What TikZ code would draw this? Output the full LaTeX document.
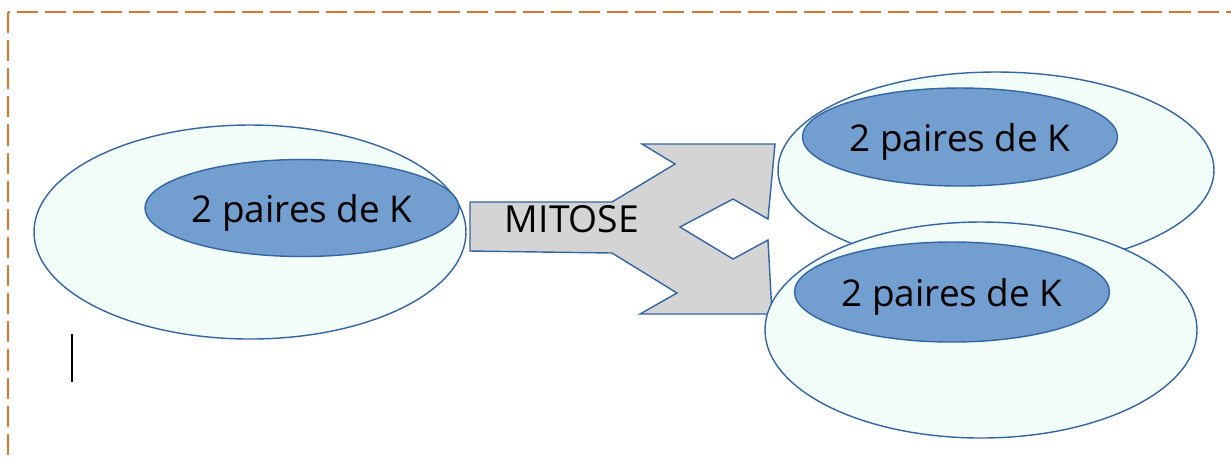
\documentclass[tikz,border=0pt]{standalone}
\usepackage{fontspec}
\setmainfont{Open Sans}
\usetikzlibrary{shapes.geometric}

\definecolor{cellfill}{HTML}{F2FDFA}
\definecolor{kfill}{HTML}{729FCF}
\definecolor{edgeblue}{HTML}{3465A4}
\definecolor{arrowgray}{HTML}{D4D4D4}
\definecolor{frameorange}{HTML}{D9752C}

\tikzset{
  cell/.style={draw=edgeblue, fill=cellfill, line width=0.4pt},
  pair/.style={ellipse, draw=edgeblue, fill=kfill, line width=0.4pt,
    inner sep=0pt, text height=11pt, text depth=2.5pt,
    font=\fontsize{10.5}{12}\selectfont},
  label/.style={font=\fontsize{10.6}{12}\selectfont}
}

\begin{document}
\begin{tikzpicture}[x=0.1mm, y=-0.1mm]

    % 1. Page size and frame
    \useasboundingbox (0,0) rectangle (1231,460);
    \clip (0,0) rectangle (1231,460);
    \draw[frameorange, line width=0.6pt, dash pattern=on 6pt off 2pt]
      (8,12) rectangle (1260,490);

    % 2. Mother cell
    \draw[cell] (250,232) ellipse [x radius=216, y radius=107];
    \node[pair, minimum width=31.4mm, minimum height=9.7mm] (K0) at (302,208) {2 paires de K};

    % 3. Arrow
    \draw[edgeblue, fill=arrowgray, line width=0.4pt]
      (470,202) -- (612,202) -- (675,164) -- (642,144) -- (775,144)
      -- (768,219) -- (733,199) -- (680,227) -- (733,259) -- (768,240)
      -- (772,314) -- (640,314) -- (677,293) -- (612,253) -- (470,251) -- cycle;
    \node[label] (mitose) at (572,219) {MITOSE};

    % 4. Daughter cells
    \draw[cell] (996,170) ellipse [x radius=218, y radius=98];
    \node[pair, minimum width=31.5mm, minimum height=9.8mm] (K1) at (960,137) {2 paires de K};
    \draw[cell] (981,330) ellipse [x radius=216, y radius=108];
    \node[pair, minimum width=31.5mm, minimum height=10mm] (K2) at (952,292) {2 paires de K};

    % 5. Text cursor
    \draw[black, line width=0.5pt] (72,334) -- (72,382);

\end{tikzpicture}
\end{document}
